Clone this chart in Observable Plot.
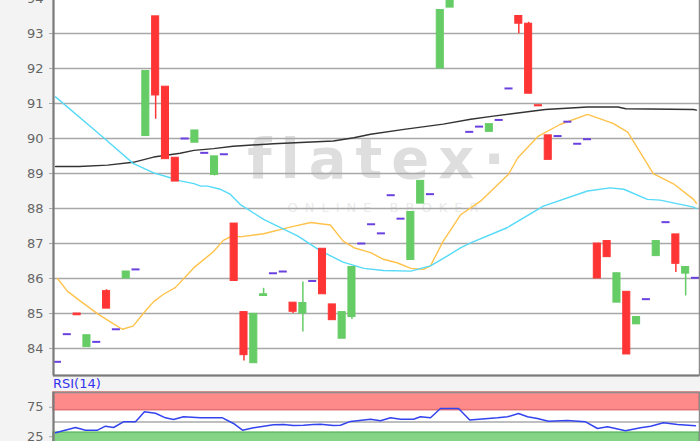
<!DOCTYPE html>
<html><head><meta charset="utf-8">
<script src="https://cdn.jsdelivr.net/npm/d3@7"></script>
<script src="https://cdn.jsdelivr.net/npm/@observablehq/plot@0.6"></script>
<style>
html,body{margin:0;padding:0;background:#f3f3f3;}
#wrap{position:relative;width:700px;height:441px;overflow:hidden;background:#f3f3f3;}
#main{position:absolute;left:0;top:-47.5px;}
#rsi{position:absolute;left:0;top:377px;}
#rsiLabel{position:absolute;left:53px;top:376px;font:13px "DejaVu Sans";color:#3333ee;line-height:16px;}
svg{overflow:visible}
</style></head><body>
<div id="wrap"><div id="main"></div><div id="rsi"></div><div id="rsiLabel">RSI(14)</div></div>
<script>
// ---- candle data (index = trading day) ----
const candleIdx = [1,2,3,4,5,6,7,8,9,10,11,12,13,14,15,16,17,18,19,20,21,22,23,24,25,26,27,28,29,30,31,32,33,34,35,36,37,38,39,40,41,43,44,45,46,47,48,49,50,51,52,53,54,55,56,57,58,59,60,61,62,63,64,65,66];
const openVals = [83.62,84.41,85.00,84.04,84.19,85.64,84.55,86.00,86.26,90.07,93.49,91.48,89.45,90.00,89.88,89.59,88.96,89.55,87.57,85.04,83.58,85.50,86.15,86.20,85.31,85.00,85.93,86.85,85.26,84.28,84.90,87.00,87.55,87.29,88.38,87.71,86.53,88.14,88.41,92.00,93.74,90.19,90.34,90.19,90.53,91.43,93.50,93.28,90.95,90.09,90.07,90.48,89.85,89.98,87.00,87.07,85.31,85.62,84.69,85.41,86.64,87.61,87.26,86.14,86.02];
const closeVals = [83.62,84.41,84.95,84.38,84.19,85.14,84.55,86.20,86.26,91.93,91.23,89.41,88.77,90.00,90.23,89.59,89.49,89.55,85.93,83.81,84.99,85.55,86.15,86.20,85.05,85.30,85.93,85.55,84.81,85.04,86.33,87.00,87.55,87.29,88.38,87.71,87.90,88.79,88.41,93.67,94.40,90.19,90.34,90.41,90.53,91.43,93.28,91.28,90.92,89.39,90.07,90.48,89.85,89.98,86.00,86.61,86.15,83.83,84.90,85.41,87.07,87.61,86.42,86.33,86.02];
const highVals = [83.62,84.41,85.00,84.38,84.19,85.68,84.55,86.20,86.26,91.93,93.49,91.48,89.45,90.00,90.23,89.59,89.49,89.55,87.57,85.04,84.99,85.72,86.15,86.20,85.31,85.90,85.93,86.85,85.26,85.04,86.33,87.00,87.55,87.29,88.38,87.71,87.90,88.79,88.41,93.67,94.40,90.19,90.34,90.41,90.53,91.43,93.50,93.32,90.95,90.09,90.07,90.48,89.85,89.98,87.00,87.07,86.15,85.62,84.90,85.41,87.07,87.61,87.26,86.33,86.02];
const lowVals = [83.62,84.41,84.95,84.04,84.19,85.14,84.55,86.00,86.26,90.07,90.55,89.41,88.77,90.00,89.88,89.59,88.93,89.55,85.93,83.64,83.58,85.50,86.15,86.20,85.00,84.47,85.93,85.55,84.81,84.28,84.83,87.00,87.55,87.29,88.38,87.71,86.53,88.14,88.41,92.00,93.74,90.19,90.34,90.19,90.53,91.43,92.99,91.28,90.92,89.39,90.07,90.48,89.85,89.98,86.00,86.61,85.31,83.83,84.69,85.41,86.64,87.61,86.17,85.50,86.02];

// ---- moving averages ----
const blackIdx = [0.8,3.2,6.1,8.7,10.8,13.5,14.9,16.9,18.9,23.0,29.1,31.2,32.9,36.3,40.3,43.1,45.4,50.7,55.0,58.1,58.9,65.8,66.1];
const blackVal = [89.2,89.2,89.24,89.32,89.47,89.58,89.66,89.71,89.78,89.85,89.93,90.02,90.12,90.26,90.41,90.55,90.64,90.83,90.9,90.9,90.85,90.83,90.81];
const cyanIdx = [0.8,5.7,8.7,10.8,12.5,13.5,14.9,15.6,16.3,17.6,18.6,19.3,19.6,22.0,25.5,27.8,30.1,32.2,34.2,37.0,39.0,40.7,42.1,43.1,46.8,50.5,55.0,57.3,58.7,61.1,62.4,65.8,66.1];
const cyanVal = [91.19,90.02,89.29,89.02,88.88,88.79,88.71,88.64,88.64,88.55,88.41,88.21,88.12,87.69,87.21,86.79,86.47,86.29,86.23,86.21,86.36,86.64,86.88,87.02,87.45,88.07,88.5,88.59,88.55,88.26,88.24,88.04,88.0];
const orangeIdx = [1,2.0,3.3,5.1,6.1,7.6,8.7,9.8,10.8,11.8,13.0,14.9,16.9,17.9,18.9,19.6,22.0,24.7,26.8,28.8,30.1,31.2,32.9,34.2,35.6,37.0,38.3,39.0,40.3,42.1,43.1,44.1,46.95,47.9,50.0,52.2,55.0,57.6,59.1,61.7,63.8,65.8,66.1];
const orangeVal = [86.0,85.64,85.36,84.99,84.81,84.55,84.64,85.02,85.34,85.55,85.74,86.31,86.77,87.09,87.23,87.19,87.28,87.47,87.6,87.53,87.07,86.88,86.74,86.55,86.45,86.29,86.26,86.36,87.07,87.83,88.02,88.21,88.98,89.45,90.07,90.4,90.69,90.43,90.18,89.0,88.7,88.26,88.15];

// ---- RSI(14) ----
const rsiIdx = [0.8,2.83,3.85,5.08,5.89,6.71,7.72,8.95,9.86,10.98,12.0,12.82,13.84,15.57,17.81,18.93,19.85,20.97,23.0,24.03,25.04,26.06,27.08,27.8,29.12,29.83,30.85,32.89,33.91,34.93,35.95,37.27,37.98,39.0,40.02,41.86,43.0,45.83,46.85,47.97,48.89,49.9,51.02,52.95,54.8,56.02,57.04,58.87,60.4,61.43,62.74,64.17,66.0];
const rsiVal = [31.7,40.7,36.1,36.1,42.9,40.7,50.3,50.3,67.3,64.9,57.1,54.2,58.8,57.1,57.1,47.5,36.1,40.2,45.3,45.8,44.1,44.6,45.8,46.3,44.1,44.6,51,54.7,52,57.1,54.7,54.7,58.8,57.1,72.9,72.9,53.5,57.1,58.8,64.4,58.8,55.9,51.4,52.5,50.3,39,41.9,35.1,40.2,42.9,48.6,45.8,43.6];
const rsiBandLo = [70, 0];
const rsiBandHi = [100, 32];
const rsiTicks = [25, 75];

const priceTicks = [84,85,86,87,88,89,90,91,92,93,94];
const xDomain = [0.5925, 66.41];
const yDomain = [83.229, 95];

const RED = "#ff3535", GREEN = "#66cc66", FLAT = "#6a40e0";
const candles = candleIdx.map((i,k)=>({i, open:openVals[k], close:closeVals[k], high:highVals[k], low:lowVals[k]}));
const up = candles.filter(d=>d.close>d.open);
const down = candles.filter(d=>d.close<d.open);
const flat = candles.filter(d=>d.close===d.open);
const col = d => d.close>d.open ? GREEN : RED;
const wicks = candles.filter(d=>d.close!==d.open && (d.high>Math.max(d.open,d.close) || d.low<Math.min(d.open,d.close)));
const toPts = (xs,ys)=>xs.map((x,k)=>({x, y:ys[k]}));

const baseStyle = {background:"transparent", fontFamily:"DejaVu Sans", fontSize:"13px", overflow:"visible"};
const LOGO = "flatex·", SUB = "ONLINE BROKER";

const main = Plot.plot({
  width:700, height:424, marginLeft:53, marginRight:1, marginTop:10, marginBottom:2,
  style: baseStyle,
  x:{domain:xDomain, axis:null},
  y:{domain:yDomain, axis:null},
  marks:[
    Plot.frame({fill:"white", stroke:null}),
    Plot.text([LOGO], {text:d=>d, frameAnchor:"middle", dx:4, dy:-9, fontSize:56, fontWeight:"bold", fill:"#dedede"}),
    Plot.text([SUB], {text:d=>d, frameAnchor:"middle", dx:10, dy:38, fontSize:13, fill:"#eaeaea"}),
    Plot.ruleY(priceTicks, {stroke:"#a8a8a8", strokeWidth:1.3}),
    Plot.axisY({ticks:priceTicks, tickSize:4, tickPadding:6, stroke:"#a8a8a8", fill:"#666", label:null, tickFormat:d=>String(d)}),
    Plot.line(toPts(blackIdx,blackVal), {x:"x", y:"y", stroke:"#333", strokeWidth:1.4}),
    Plot.line(toPts(orangeIdx,orangeVal), {x:"x", y:"y", stroke:"#ffc24a", strokeWidth:1.4}),
    Plot.line(toPts(cyanIdx,cyanVal), {x:"x", y:"y", stroke:"#55daf7", strokeWidth:1.4}),
    Plot.ruleX(wicks, {x:"i", y1:"low", y2:"high", stroke:col, strokeWidth:1.5}),
    Plot.rect(up, {x1:d=>d.i-0.36, x2:d=>d.i+0.36, y1:"open", y2:"close", fill:GREEN, stroke:GREEN, strokeWidth:1}),
    Plot.rect(down, {x1:d=>d.i-0.36, x2:d=>d.i+0.36, y1:"open", y2:"close", fill:RED, stroke:RED, strokeWidth:1}),
    Plot.ruleY(flat, {x1:d=>d.i-0.41, x2:d=>d.i+0.41, y:"open", stroke:FLAT, strokeWidth:2}),
    Plot.frame({stroke:"#8c8c8c", strokeWidth:1.5}),
    Plot.ruleX([xDomain[0]], {stroke:"#7a7a7a", strokeWidth:2}),
    Plot.ruleY([yDomain[0]], {stroke:"#7a7a7a", strokeWidth:2})
  ]
});
// widen the watermark lettering
d3.select(main).selectAll("text").filter(function(){return this.textContent===LOGO;}).attr("letter-spacing","9px");
d3.select(main).selectAll("text").filter(function(){return this.textContent===SUB;}).attr("letter-spacing","7px");
document.getElementById("main").appendChild(main);

const bands = rsiBandLo.map((lo,k)=>({lo, hi:rsiBandHi[k], k}));
const rsi = Plot.plot({
  width:700, height:76, marginLeft:53, marginRight:1, marginTop:15, marginBottom:2,
  style: baseStyle,
  x:{domain:xDomain, axis:null},
  y:{domain:[0,100], axis:null},
  marks:[
    Plot.frame({fill:"white", stroke:null}),
    Plot.rect(bands, {y1:"lo", y2:"hi", fill:d=>d.k===0?"#ff8a8a":"#85d485", stroke:d=>d.k===0?"#e07272":"#62bb62", strokeWidth:1.5}),
    Plot.ruleY([50], {stroke:"#aaaaaa", strokeWidth:1.3}),
    Plot.line(toPts(rsiIdx,rsiVal), {x:"x", y:"y", stroke:"#3344ee", strokeWidth:1.5}),
    Plot.axisY({ticks:rsiTicks, tickSize:4, tickPadding:6, stroke:"#a8a8a8", fill:"#666", label:null, tickFormat:d=>String(d)}),
    Plot.frame({stroke:"#8c8c8c", strokeWidth:1.5}),
    Plot.ruleX([xDomain[0]], {stroke:"#7a7a7a", strokeWidth:2})
  ]
});
document.getElementById("rsi").appendChild(rsi);
</script>
</body></html>
